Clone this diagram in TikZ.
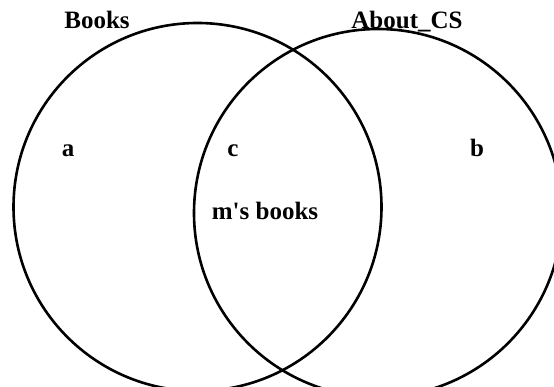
\documentclass[tikz,border=0pt]{standalone}
\usepackage{fontspec}
\setmainfont{Liberation Serif}
\begin{document}
\begin{tikzpicture}[x=1pt,y=-1pt,
  setcircle/.style={circle,draw=black,line width=2.6pt,inner sep=0pt,minimum size=368pt},
  lbl/.style={font=\fontsize{25}{27}\selectfont\bfseries,anchor=base,inner sep=0pt}]
\useasboundingbox (0,0) rectangle (554,387);
\node[setcircle] (books) at (197.5,207) {};
\node[setcircle] (aboutcs) at (378,213) {};
\node[lbl] (lbooks) at (97,28.5) {Books};
\node[lbl] (lcs) at (407,28.5) {About\_CS};
\node[lbl] (la) at (68,157) {a};
\node[lbl] (lc) at (233,157) {c};
\node[lbl] (lb) at (477,157) {b};
\node[lbl] (lm) at (265,220) {m\textquotesingle s books};
\end{tikzpicture}
\end{document}
